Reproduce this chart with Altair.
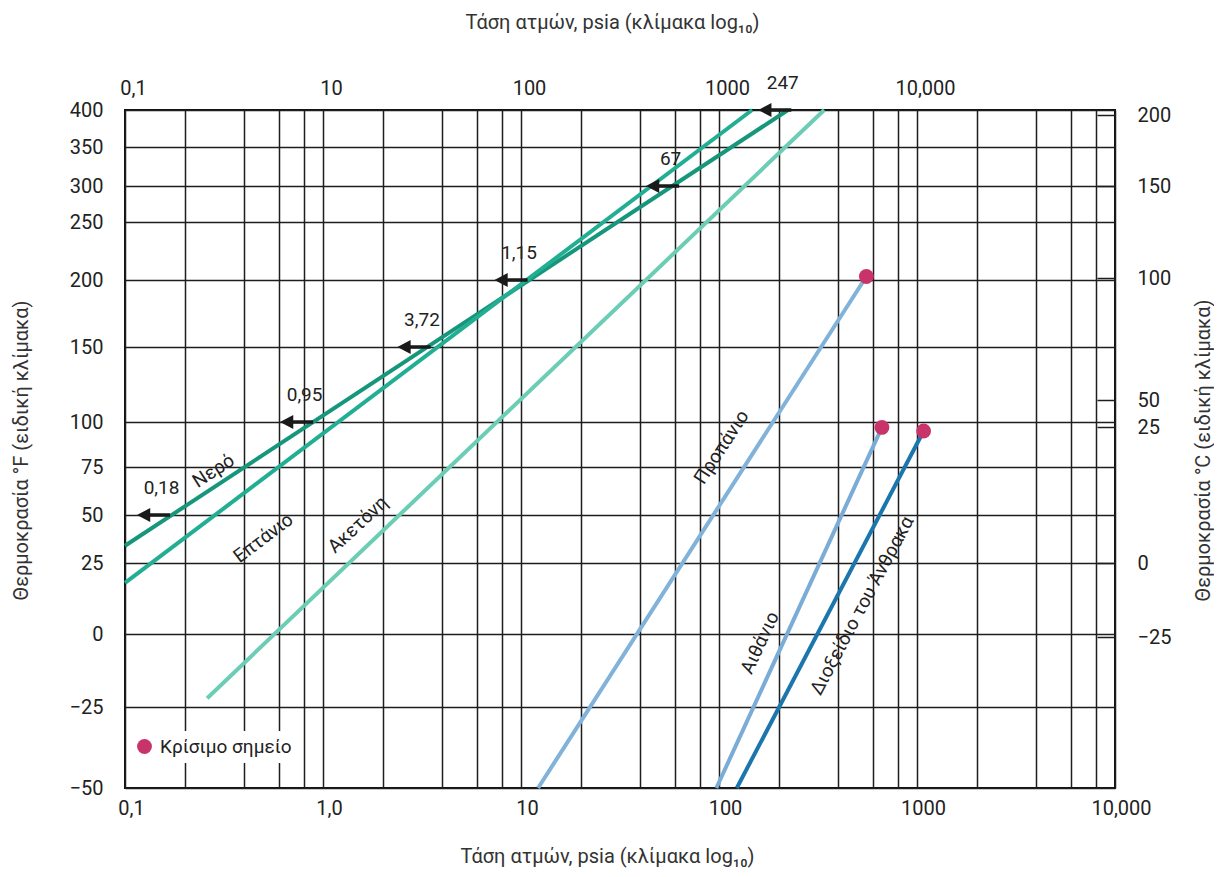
import altair as alt
import pandas as pd

FONT = "Roboto"
INK = "#222222"

# ---------------- data ----------------
substances = ["Νερό", "Επτάνιο", "Ακετόνη", "Προπάνιο", "Αιθάνιο", "Διοξείδιο του Άνθρακα"]

# each substance is drawn as a straight line between its two end points
water_p = [0.1, 223]
water_T = [34, 400]
heptane_p = [0.1, 147]
heptane_T = [18, 400]
acetone_p = [0.26, 340]
acetone_T = [-22, 400]
propane_p = [12.2, 555]
propane_T = [-50, 203]
ethane_p = [97, 665]
ethane_T = [-50, 97]
co2_p = [123, 1080]
co2_T = [-50, 95]

# water vapour pressures marked with arrows
marker_p = [0.18, 0.95, 3.72, 11.5, 67, 247]
marker_T = [50, 100, 150, 200, 300, 400]
marker_text = ["0,18", "0,95", "3,72", "1,15", "67", "247"]

critical_p = [555, 665, 1080]
critical_T = [203, 97, 95]
critical_name = "Κρίσιμο σημείο"

label_p = [0.28, 0.5, 1.5, 103, 161, 527]
label_T = [73, 38, 45, 86, -3, 10]

x_label_values = [0.1, 1, 10, 100, 1000, 10000]
x_label_text = ["0,1", "1,0", "10", "100", "1000", "10,000"]
top_label_values = [0.1, 1, 10, 100, 1000]
top_label_text = ["0,1", "10", "100", "1000", "10,000"]
F_values = [-50, -25, 0, 25, 50, 75, 100, 150, 200, 250, 300, 350, 400]
C_values = [-25, 0, 25, 50, 100, 150, 200]

# ---------------- styling / scale calibration ----------------
line_colors = ["#16977b", "#22ae93", "#6ccdb5", "#80b2da", "#7aacd6", "#1c76ae"]
label_angles = [327, 323, 317, 303, 295, 298]
# special (non-linear) temperature scales of the chart, px from top of plot
F_pos = [678, 597, 524, 453, 405, 357, 312, 237, 170, 112, 76, 37, 0]
C_pos = [527, 453, 317, 290, 168, 76, 5]
W, H = 990, 678
TICK_FS = 20
TITLE_FS = 20
TEXT_FS = 19

grid_values = [round(m * 10 ** k, 6) for k in range(-1, 4) for m in (1, 2, 4, 6, 8)] + [10000]


def label_expr(vals, texts):
    expr = "''"
    for v, t in reversed(list(zip(vals, texts))):
        expr = f"(abs(datum.value - {v}) < {v} * 1e-6 ? '{t}' : {expr})"
    return expr


X_SCALE = alt.Scale(type="log", domain=[0.1, 10000], nice=False)
Y_SCALE = alt.Scale(domain=F_values, range=F_pos, nice=False, zero=False)
C_SCALE = alt.Scale(domain=C_values, range=C_pos, nice=False, zero=False)

AX_TITLE = "Τάση ατμών, psia (κλίμακα log₁₀)"

bottom_axis = alt.Axis(
    orient="bottom", values=grid_values, labelExpr=label_expr(x_label_values, x_label_text),
    grid=True, gridColor="#1e1e1e", gridWidth=1.5, gridOpacity=1, ticks=False, domain=False,
    labelFont=FONT, labelFontSize=TICK_FS, labelColor=INK, labelPadding=10, labelFlush=False,
    labelOverlap=False, labelOffset=6,
    title=AX_TITLE, titleFont=FONT, titleFontSize=TITLE_FS, titleFontWeight="normal", titleColor="#333333",
    titleX=482, titleY=68, titleBaseline="middle", titleAlign="center",
)
top_axis = alt.Axis(
    orient="top", values=top_label_values, labelExpr=label_expr(top_label_values, top_label_text),
    grid=False, ticks=False, domain=False,
    labelFont=FONT, labelFontSize=TICK_FS, labelColor=INK, labelPadding=12, labelFlush=False,
    labelOverlap=False, labelOffset=8,
    title=AX_TITLE, titleFont=FONT, titleFontSize=TITLE_FS, titleFontWeight="normal", titleColor="#333333",
    titleX=487, titleY=-88, titleBaseline="middle", titleAlign="center",
)
left_axis = alt.Axis(
    orient="left", values=F_values, grid=True, gridColor="#1e1e1e", gridWidth=1.5, gridOpacity=1,
    ticks=False, domain=False, labelFont=FONT, labelFontSize=TICK_FS, labelColor=INK, labelPadding=22,
    labelOverlap=False, labelFlush=False,
    title="Θερμοκρασία °F (ειδική κλίμακα)", titleFont=FONT, titleFontSize=TITLE_FS, titleFontWeight="normal",
    titleColor="#333333", titleX=-104, titleY=340, titleAngle=270, titleBaseline="middle", titleAlign="center",
)
right_axis = alt.Axis(
    orient="right", values=C_values, grid=False, ticks=False, domain=False,
    labelFont=FONT, labelFontSize=TICK_FS, labelColor=INK, labelPadding=22, labelOverlap=False, labelFlush=False,
    title="Θερμοκρασία °C (ειδική κλίμακα)", titleFont=FONT, titleFontSize=TITLE_FS, titleFontWeight="normal",
    titleColor="#333333", titleX=88, titleY=340, titleAngle=270, titleBaseline="middle", titleAlign="center",
)
right_inner_ticks = alt.Axis(
    orient="right", values=C_values, offset=-18, ticks=True, tickSize=18, tickColor="#1e1e1e",
    tickWidth=1.5, labels=False, domain=False, grid=False, title=None,
)


def X(axis=None):
    return alt.X("p:Q", scale=X_SCALE, axis=axis)


def Y():
    return alt.Y("T:Q", scale=Y_SCALE, axis=left_axis)


# ---------------- tables ----------------
series = [(water_p, water_T), (heptane_p, heptane_T), (acetone_p, acetone_T),
          (propane_p, propane_T), (ethane_p, ethane_T), (co2_p, co2_T)]
rows = []
for name, (ps, ts) in zip(substances, series):
    for i, (p, t) in enumerate(zip(ps, ts)):
        rows.append({"substance": name, "p": p, "T": t, "i": i})
lines_df = pd.DataFrame(rows)
marker_df = pd.DataFrame({"p": marker_p, "T": marker_T, "txt": marker_text})
crit_df = pd.DataFrame({"p": critical_p, "T": critical_T, "kind": [critical_name] * len(critical_p)})
top_df = pd.DataFrame({"p": top_label_values})
c_df = pd.DataFrame({"C": C_values})

lines = alt.Chart(lines_df).mark_line(strokeWidth=4, strokeCap="butt").encode(
    x=X(bottom_axis), y=Y(),
    stroke=alt.Stroke("substance:N", scale=alt.Scale(domain=substances, range=line_colors), legend=None),
    order="i:Q",
)

ARROW = "M -1 0 L -0.2 -0.42 L -0.2 -0.1 L 1 -0.1 L 1 0.1 L -0.2 0.1 L -0.2 0.42 Z"
arrows = alt.Chart(marker_df).mark_point(
    shape=ARROW, filled=True, fill="#1a1a1a", size=1100, xOffset=-22, opacity=1, strokeWidth=0
).encode(x=X(), y=Y())
arrow_txt = alt.Chart(marker_df).mark_text(
    dx=-14, dy=-27, font=FONT, fontSize=TEXT_FS, color=INK
).encode(x=X(), y=Y(), text="txt:N")

crit = alt.Chart(crit_df).mark_circle(size=220, opacity=1).encode(
    x=X(), y=Y(),
    fill=alt.Fill("kind:N", scale=alt.Scale(domain=[critical_name], range=["#c8346a"]),
                  legend=alt.Legend(title=None, orient="none", legendX=4, legendY=621,
                                    symbolType="circle", symbolSize=220, symbolStrokeWidth=0,
                                    labelFont=FONT, labelFontSize=TEXT_FS, labelColor=INK,
                                    fillColor="white", padding=6, labelOffset=6)),
)

name_layers = []
for name, p, t, ang in zip(substances, label_p, label_T, label_angles):
    d = pd.DataFrame({"p": [p], "T": [t], "name": [name]})
    name_layers.append(
        alt.Chart(d).mark_text(angle=ang, font=FONT, fontSize=TEXT_FS, color=INK).encode(
            x=X(), y=Y(), text="name:N")
    )

top_layer = alt.Chart(top_df).mark_point(opacity=0).encode(x=X(top_axis), y=alt.value(0))

f_group = alt.layer(lines, arrows, arrow_txt, crit, *name_layers, top_layer).resolve_axis(x="independent")

c_axis_layer = alt.Chart(c_df).mark_point(opacity=0).encode(
    y=alt.Y("C:Q", scale=C_SCALE, axis=right_axis))
c_tick_layer = alt.Chart(c_df).mark_point(opacity=0).encode(
    y=alt.Y("C:Q", scale=C_SCALE, axis=right_inner_ticks))
c_group = alt.layer(c_axis_layer, c_tick_layer).resolve_axis(y="independent")

chart = alt.layer(f_group, c_group).resolve_scale(y="independent").properties(
    width=W, height=H,
    autosize=alt.AutoSizeParams(type="none"),
    padding={"left": 117, "top": 102, "right": 99, "bottom": 80},
    background="white",
).configure_view(stroke="#111111", strokeWidth=2)

chart.save("out.html", embed_options={"renderer": "svg", "actions": False})
